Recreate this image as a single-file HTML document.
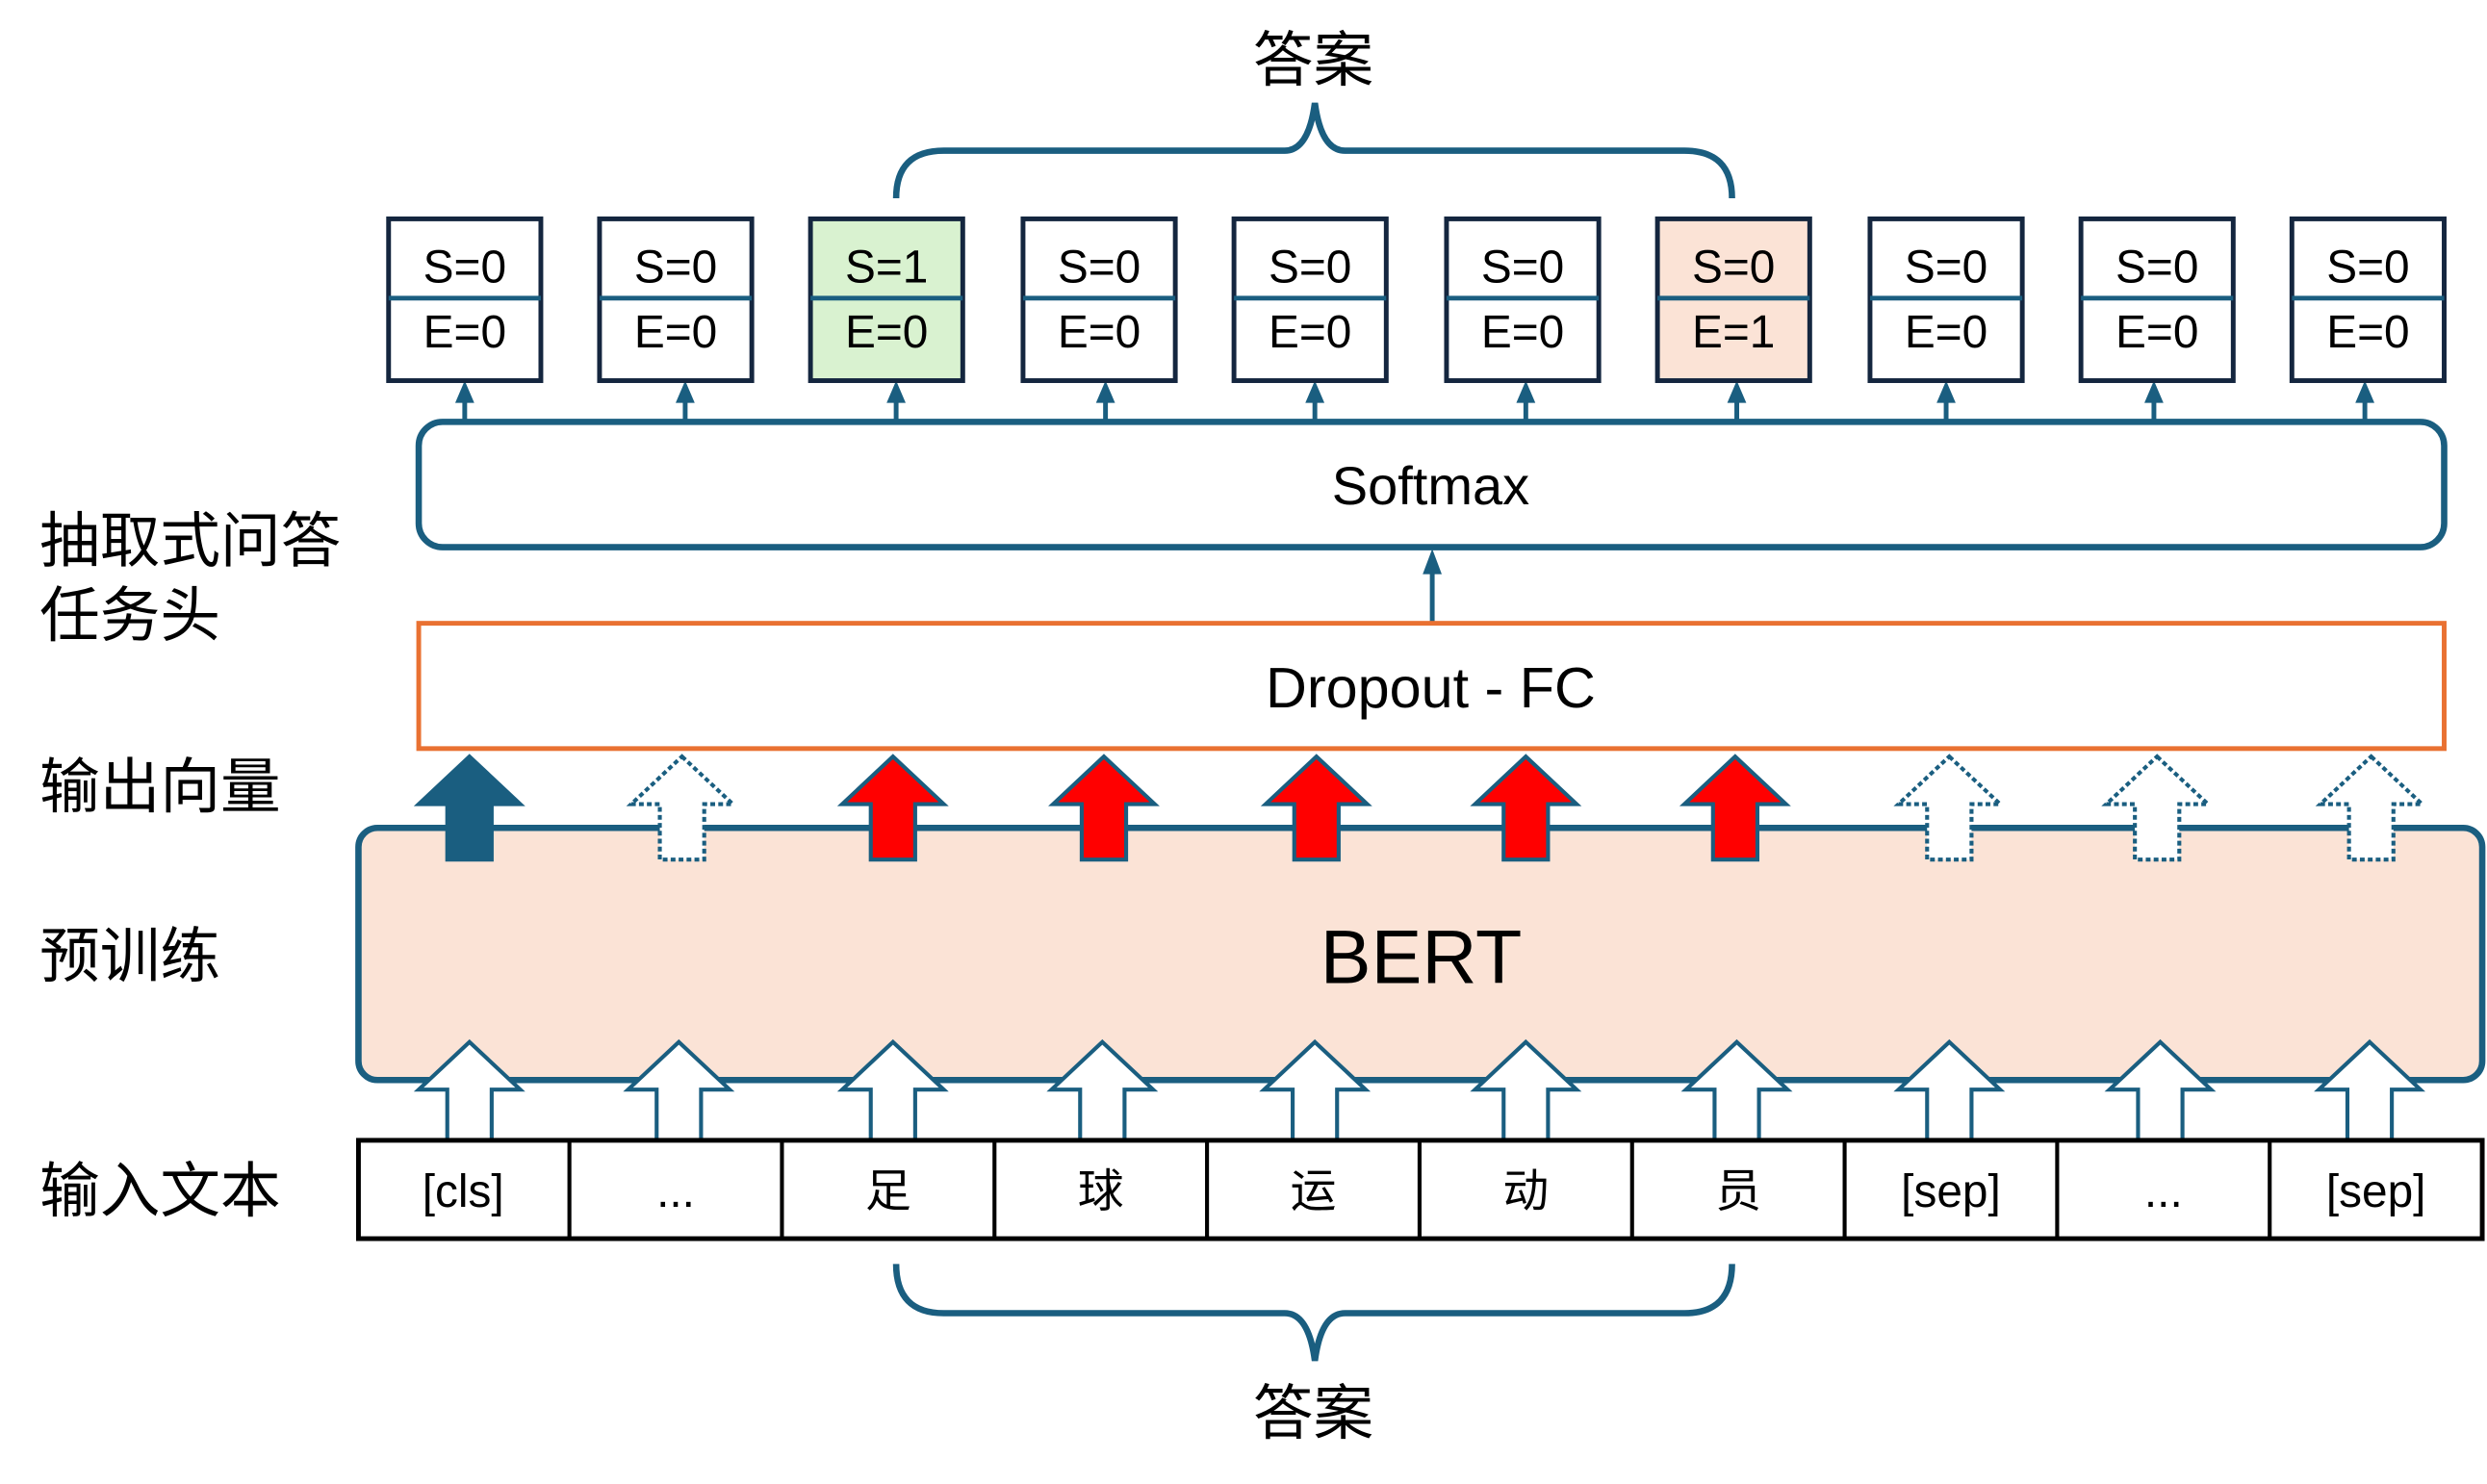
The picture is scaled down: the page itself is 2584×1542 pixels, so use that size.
<!DOCTYPE html>
<html><head><meta charset="utf-8"><style>html,body{margin:0;padding:0;background:#fff}svg{display:block}</style></head><body>
<svg width="2584" height="1542" viewBox="0 0 1568 935.7" xmlns="http://www.w3.org/2000/svg" font-family="Liberation Sans, Noto Sans CJK SC, sans-serif">
<g font-size="38" fill="#000">
<text x="25" y="354">抽取式问答</text>
<text x="25" y="401">任务头</text>
<text x="25" y="509">输出向量</text>
<text x="25" y="616">预训练</text>
<text x="25" y="764">输入文本</text>
</g>
<text x="828" y="51" font-size="38" text-anchor="middle">答案</text>
<path d="M565,125 Q565,95 595,95 L810,95 Q825,95 829,65 Q833,95 848,95 L1062,95 Q1092,95 1092,125" fill="none" stroke="#1a5e80" stroke-width="4"/>
<defs>
<g id="sa"><line x1="0" y1="266" x2="0" y2="252" stroke="#1a5e80" stroke-width="3"/><path d="M0,240 L-6,254 L6,254 Z" fill="#1a5e80"/></g>
</defs>
<use href="#sa" x="293"/><use href="#sa" x="432"/><use href="#sa" x="565"/><use href="#sa" x="697"/><use href="#sa" x="829"/><use href="#sa" x="962"/><use href="#sa" x="1095"/><use href="#sa" x="1227"/><use href="#sa" x="1358"/><use href="#sa" x="1491"/>
<line x1="903" y1="393" x2="903" y2="360" stroke="#1a5e80" stroke-width="3"/>
<path d="M903,346 L897,362 L909,362 Z" fill="#1a5e80"/>
<g font-size="29" text-anchor="middle">
<g transform="translate(245,138)"><rect width="96" height="102" fill="#fff" stroke="#14263f" stroke-width="3"/><line x1="0" y1="50" x2="96" y2="50" stroke="#1a5e80" stroke-width="3"/><text x="48" y="40">S=0</text><text x="48" y="81">E=0</text></g>
<g transform="translate(378,138)"><rect width="96" height="102" fill="#fff" stroke="#14263f" stroke-width="3"/><line x1="0" y1="50" x2="96" y2="50" stroke="#1a5e80" stroke-width="3"/><text x="48" y="40">S=0</text><text x="48" y="81">E=0</text></g>
<g transform="translate(511,138)"><rect width="96" height="102" fill="#d9f2d0" stroke="#14263f" stroke-width="3"/><line x1="0" y1="50" x2="96" y2="50" stroke="#1a5e80" stroke-width="3"/><text x="48" y="40">S=1</text><text x="48" y="81">E=0</text></g>
<g transform="translate(645,138)"><rect width="96" height="102" fill="#fff" stroke="#14263f" stroke-width="3"/><line x1="0" y1="50" x2="96" y2="50" stroke="#1a5e80" stroke-width="3"/><text x="48" y="40">S=0</text><text x="48" y="81">E=0</text></g>
<g transform="translate(778,138)"><rect width="96" height="102" fill="#fff" stroke="#14263f" stroke-width="3"/><line x1="0" y1="50" x2="96" y2="50" stroke="#1a5e80" stroke-width="3"/><text x="48" y="40">S=0</text><text x="48" y="81">E=0</text></g>
<g transform="translate(912,138)"><rect width="96" height="102" fill="#fff" stroke="#14263f" stroke-width="3"/><line x1="0" y1="50" x2="96" y2="50" stroke="#1a5e80" stroke-width="3"/><text x="48" y="40">S=0</text><text x="48" y="81">E=0</text></g>
<g transform="translate(1045,138)"><rect width="96" height="102" fill="#fbe3d6" stroke="#14263f" stroke-width="3"/><line x1="0" y1="50" x2="96" y2="50" stroke="#1a5e80" stroke-width="3"/><text x="48" y="40">S=0</text><text x="48" y="81">E=1</text></g>
<g transform="translate(1179,138)"><rect width="96" height="102" fill="#fff" stroke="#14263f" stroke-width="3"/><line x1="0" y1="50" x2="96" y2="50" stroke="#1a5e80" stroke-width="3"/><text x="48" y="40">S=0</text><text x="48" y="81">E=0</text></g>
<g transform="translate(1312,138)"><rect width="96" height="102" fill="#fff" stroke="#14263f" stroke-width="3"/><line x1="0" y1="50" x2="96" y2="50" stroke="#1a5e80" stroke-width="3"/><text x="48" y="40">S=0</text><text x="48" y="81">E=0</text></g>
<g transform="translate(1445,138)"><rect width="96" height="102" fill="#fff" stroke="#14263f" stroke-width="3"/><line x1="0" y1="50" x2="96" y2="50" stroke="#1a5e80" stroke-width="3"/><text x="48" y="40">S=0</text><text x="48" y="81">E=0</text></g>
</g>
<rect x="264" y="266" width="1277" height="79" rx="15" fill="#fff" stroke="#1a5e80" stroke-width="4"/>
<text x="902" y="318" font-size="34" text-anchor="middle">Softmax</text>
<rect x="264" y="393" width="1277" height="79" fill="#fff" stroke="#e97132" stroke-width="3"/>
<text x="902" y="446" font-size="36" text-anchor="middle">Dropout - FC</text>
<rect x="226" y="522" width="1339" height="159" rx="12" fill="#fbe3d6" stroke="#1a5e80" stroke-width="4"/>
<text x="896" y="620" font-size="48" text-anchor="middle">BERT</text>
<defs>
<path id="arr" d="M0,0 L32,30 L14,30 L14,65 L-14,65 L-14,30 L-32,30 Z"/>
</defs>
<use href="#arr" x="296" y="477" fill="#1a5e80" stroke="#1a5e80" stroke-width="2.5"/>
<g fill="#fff" stroke="#1a5e80" stroke-width="2.5" stroke-dasharray="3,2">
<use href="#arr" x="430" y="477"/><use href="#arr" x="1229" y="477"/><use href="#arr" x="1360" y="477"/><use href="#arr" x="1495" y="477"/>
</g>
<g fill="#ff0000" stroke="#1a5e80" stroke-width="2.5">
<use href="#arr" x="563" y="477"/><use href="#arr" x="696" y="477"/><use href="#arr" x="830" y="477"/><use href="#arr" x="962" y="477"/><use href="#arr" x="1094" y="477"/>
</g>
<g fill="#fff" stroke="#1a5e80" stroke-width="2.5">
<use href="#arr" x="296" y="657"/><use href="#arr" x="428" y="657"/><use href="#arr" x="563" y="657"/><use href="#arr" x="695" y="657"/><use href="#arr" x="829" y="657"/><use href="#arr" x="962" y="657"/><use href="#arr" x="1095" y="657"/><use href="#arr" x="1229" y="657"/><use href="#arr" x="1362" y="657"/><use href="#arr" x="1494" y="657"/>
</g>
<rect x="226" y="719" width="1339" height="62" fill="#fff" stroke="#000" stroke-width="3"/>
<g stroke="#000" stroke-width="2.5">
<line x1="359" y1="719" x2="359" y2="781"/><line x1="493" y1="719" x2="493" y2="781"/><line x1="627" y1="719" x2="627" y2="781"/><line x1="761" y1="719" x2="761" y2="781"/><line x1="895" y1="719" x2="895" y2="781"/><line x1="1029" y1="719" x2="1029" y2="781"/><line x1="1163" y1="719" x2="1163" y2="781"/><line x1="1297" y1="719" x2="1297" y2="781"/><line x1="1431" y1="719" x2="1431" y2="781"/>
</g>
<g font-size="29" text-anchor="middle">
<text x="292" y="761">[cls]</text><text x="426" y="761">...</text><text x="560" y="761">足</text><text x="694" y="761">球</text><text x="828" y="761">运</text><text x="962" y="761">动</text><text x="1096" y="761">员</text><text x="1230" y="761">[sep]</text><text x="1364" y="761">...</text><text x="1498" y="761">[sep]</text>
</g>
<path d="M565,797 Q565,828 595,828 L810,828 Q825,828 829,858 Q833,828 848,828 L1062,828 Q1092,828 1092,797" fill="none" stroke="#1a5e80" stroke-width="4"/>
<text x="828" y="904" font-size="38" text-anchor="middle">答案</text>
</svg>
</body></html>
